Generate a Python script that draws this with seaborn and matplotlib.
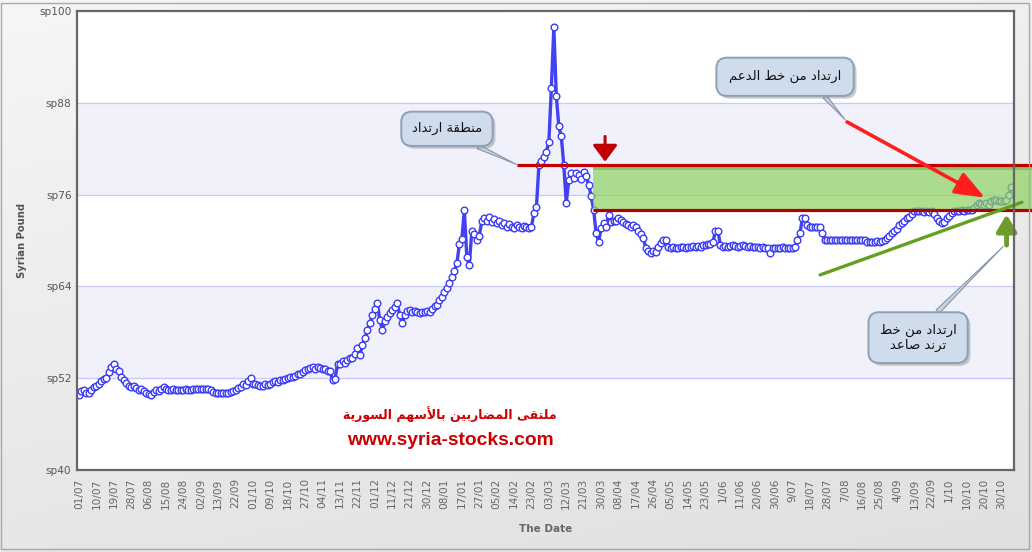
import numpy as np
import pandas as pd
import seaborn as sns
from matplotlib import pyplot as plt
from matplotlib import patheffects as pe
from matplotlib.colors import LinearSegmentedColormap
from matplotlib.patches import Rectangle

#############################################
# Data (one row = one x-label interval of 7 sessions)
#############################################
PRICES = [
    49.8, 50.3, 50.4, 50.1, 50.0, 50.4, 50.8,
    51.0, 51.3, 51.6, 51.9, 52.0, 52.8, 53.4,
    53.9, 53.2, 52.9, 52.2, 51.8, 51.4, 51.0,
    50.9, 51.0, 50.7, 50.5, 50.6, 50.3, 50.1,
    49.9, 49.8, 50.2, 50.4, 50.3, 50.6, 50.9,
    50.6, 50.4, 50.5, 50.6, 50.4, 50.5, 50.5,
    50.4, 50.6, 50.5, 50.5, 50.6, 50.6, 50.6,
    50.6, 50.6, 50.6, 50.6, 50.5, 50.2, 50.1,
    50.1, 50.0, 50.1, 50.1, 50.0, 50.2, 50.3,
    50.4, 50.7, 50.9, 51.2, 51.1, 51.6, 52.0,
    51.3, 51.2, 51.1, 51.0, 51.0, 51.2, 51.1,
    51.3, 51.5, 51.6, 51.5, 51.7, 51.8, 51.9,
    52.0, 52.1, 52.2, 52.3, 52.6, 52.5, 52.8,
    53.1, 53.2, 53.3, 53.4, 53.2, 53.5, 53.3,
    53.2, 53.2, 53.0, 52.9, 51.8, 51.9, 53.9,
    53.8, 54.2, 54.0, 54.4, 54.7, 54.6, 55.2,
    55.9, 55.0, 56.3, 57.2, 58.3, 59.2, 60.2,
    61.0, 61.8, 59.6, 58.3, 59.5, 60.0, 60.5,
    60.9, 61.3, 61.8, 60.2, 59.2, 60.3, 60.8,
    60.9, 60.7, 60.8, 60.6, 60.5, 60.7, 60.6,
    60.8, 60.6, 61.0, 61.5, 61.6, 62.2, 62.6,
    63.2, 63.8, 64.4, 65.2, 66.0, 67.0, 69.5,
    70.2, 74.0, 67.8, 66.8, 71.2, 70.8, 70.0,
    70.6, 72.5, 73.0, 72.6, 73.1, 72.4, 72.8,
    72.3, 72.6, 72.0, 72.3, 71.8, 72.2, 71.7,
    71.6, 72.0, 71.7, 71.6, 71.9, 71.7, 71.6,
    71.8, 73.6, 74.4, 79.9, 80.4, 80.9, 81.6,
    82.9, 89.9, 97.9, 88.9, 84.9, 83.6, 79.9,
    74.9, 77.9, 78.8, 78.2, 78.8, 78.5, 78.0,
    79.0, 78.4, 77.3, 75.8, 74.0, 71.0, 69.8,
    71.6, 72.3, 71.8, 73.3, 72.4, 72.5, 72.6,
    73.0, 72.7, 72.4, 72.2, 72.0, 71.8, 72.0,
    71.8, 71.3, 70.8, 70.3, 69.0, 68.6, 68.4,
    68.6, 68.5, 69.2, 69.7, 70.0, 70.0, 69.1,
    69.0, 69.1, 69.0, 69.0, 69.2, 69.1, 69.0,
    69.1, 69.2, 69.3, 69.2, 69.3, 69.2, 69.4,
    69.4, 69.5, 69.6, 69.8, 71.2, 71.2, 69.4,
    69.2, 69.3, 69.2, 69.3, 69.4, 69.3, 69.2,
    69.3, 69.4, 69.3, 69.2, 69.3, 69.1, 69.2,
    69.1, 69.0, 69.1, 69.0, 69.0, 68.4, 69.0,
    69.0, 69.0, 69.0, 69.1, 69.0, 69.0, 69.0,
    69.0, 69.2, 70.0, 71.0, 72.9, 72.9, 72.0,
    71.8, 71.8, 71.8, 71.8, 71.8, 71.0, 70.1,
    70.1, 70.0, 70.1, 70.0, 70.0, 70.1, 70.0,
    70.0, 70.0, 70.1, 70.0, 70.0, 70.0, 70.0,
    70.0, 70.0, 69.8, 69.8, 69.8, 69.8, 69.9,
    69.8, 69.9, 70.1, 70.3, 70.6, 71.0, 71.2,
    71.5, 72.0, 72.3, 72.6, 73.0, 73.1, 73.5,
    73.8, 73.8, 73.8, 73.8, 73.7, 73.8, 73.7,
    73.8, 73.4, 72.9, 72.6, 72.3, 72.4, 72.9,
    73.2, 73.6, 73.8, 73.8, 73.9, 74.0, 73.9,
    74.0, 74.0, 74.0, 74.3, 74.6, 74.9, 74.8,
    74.6, 74.9, 74.7, 75.2, 75.3, 75.3, 75.2,
    75.1, 75.2, 75.3, 75.9, 77.0,
]

DATE_LABELS = [
    "01/07", "10/07", "19/07", "28/07", "06/08", "15/08", "24/08", "02/09", "13/09",
    "22/09", "01/10", "09/10", "18/10", "27/10", "04/11", "13/11", "22/11", "01/12",
    "11/12", "21/12", "30/12", "08/01", "17/01", "27/01", "05/02", "14/02", "23/02",
    "03/03", "12/03", "21/03", "30/03", "08/04", "17/04", "26/04", "05/05", "14/05",
    "23/05", "1/06", "11/06", "20/06", "30/06", "9/07", "18/07", "28/07", "7/08",
    "16/08", "25/08", "4/09", "13/09", "22/09", "1/10", "10/10", "20/10", "30/10",
]
LABEL_STEP = 7
Y_TICKS = [40, 52, 64, 76, 88, 100]

# analysis levels
RESISTANCE = 79.9
SUPPORT = 74.0
ZONE_START = 176.2      # where the resistance line begins (session index)
BOX_START = 206.8
RIGHT_END = 383.3
TREND_START = (298.1, 65.5)
TREND_END = (379.3, 75.0)

TXT_ZONE = "منطقة ارتداد"
TXT_SUPPORT = "ارتداد من خط الدعم"
TXT_TREND = "ارتداد من خط\nترند صاعد"
TXT_FORUM = "ملتقى المضاربين بالأسهم السورية"
TXT_SITE = "www.syria-stocks.com"

#############################################
# Arabic shaping (matplotlib draws glyphs left to right, unjoined)
#############################################
AR_FORMS = {  # isolated, final, initial, medial
    'ا': (0xFE8D, 0xFE8E), 'أ': (0xFE83, 0xFE84), 'د': (0xFEA9, 0xFEAA),
    'ر': (0xFEAD, 0xFEAE), 'و': (0xFEED, 0xFEEE), 'ة': (0xFE93, 0xFE94),
    'ب': (0xFE8F, 0xFE90, 0xFE91, 0xFE92), 'ت': (0xFE95, 0xFE96, 0xFE97, 0xFE98),
    'خ': (0xFEA5, 0xFEA6, 0xFEA7, 0xFEA8), 'س': (0xFEB1, 0xFEB2, 0xFEB3, 0xFEB4),
    'ص': (0xFEB9, 0xFEBA, 0xFEBB, 0xFEBC), 'ض': (0xFEBD, 0xFEBE, 0xFEBF, 0xFEC0),
    'ط': (0xFEC1, 0xFEC2, 0xFEC3, 0xFEC4), 'ع': (0xFEC9, 0xFECA, 0xFECB, 0xFECC),
    'ق': (0xFED5, 0xFED6, 0xFED7, 0xFED8), 'ل': (0xFEDD, 0xFEDE, 0xFEDF, 0xFEE0),
    'م': (0xFEE1, 0xFEE2, 0xFEE3, 0xFEE4), 'ن': (0xFEE5, 0xFEE6, 0xFEE7, 0xFEE8),
    'ه': (0xFEE9, 0xFEEA, 0xFEEB, 0xFEEC), 'ي': (0xFEF1, 0xFEF2, 0xFEF3, 0xFEF4),
    'ى': (0xFEEF, 0xFEF0, 0xFBE8, 0xFBE9),
    'لا': (0xFEFB, 0xFEFC), 'لأ': (0xFEF7, 0xFEF8),
}


def shape_ar(text):
    lines = []
    for line in text.split('\n'):
        units, i = [], 0
        while i < len(line):
            if line[i:i + 2] in ('لا', 'لأ'):
                units.append(line[i:i + 2])
                i += 2
            else:
                units.append(line[i])
                i += 1
        out = []
        for k, u in enumerate(units):
            if u not in AR_FORMS:
                out.append(u)
                continue
            prev = units[k - 1] if k > 0 else ''
            nxt = units[k + 1] if k + 1 < len(units) else ''
            forms = AR_FORMS[u]
            p = len(AR_FORMS.get(prev, ())) == 4
            n = len(forms) == 4 and nxt in AR_FORMS
            code = forms[3] if p and n else forms[1] if p else forms[2] if n else forms[0]
            out.append(chr(code))
        lines.append(''.join(out)[::-1])
    return '\n'.join(lines)


#############################################
# Figure
#############################################
sns.set_style("white")
plt.rcParams['font.family'] = ['DejaVu Sans']

df = pd.DataFrame({"session": np.arange(len(PRICES)), "price": PRICES})

fig = plt.figure(figsize=(10.32, 5.52), dpi=100)

# grey gradient background
bg = fig.add_axes([0, 0, 1, 1], zorder=-10)
grad = np.add.outer(np.linspace(0, 1, 60), np.linspace(0, 0.4, 60))
bg.imshow(grad, aspect='auto', extent=(0, 1, 0, 1),
          cmap=LinearSegmentedColormap.from_list("bg", ["#f6f6f6", "#e0e0e0"]))
bg.axis('off')
fig.patches.append(Rectangle((0.001, 0.005), 0.996, 0.99, transform=fig.transFigure,
                             fill=False, ec='#a8a8a8', lw=1))

ax = fig.add_axes([0.0746, 0.1486, 0.9080, 0.8315])
ax.set_facecolor('white')
for lo, hi in [(52, 64), (76, 88)]:
    ax.axhspan(lo, hi, color='#f1f1fc', zorder=0)
for v in Y_TICKS[1:-1]:
    ax.axhline(v, color='#c9c9f2', lw=0.9, zorder=0.5)

sns.lineplot(data=df, x="session", y="price", ax=ax, color='#4242f2', lw=2.4,
             marker='o', markersize=4.8, markerfacecolor='white',
             markeredgecolor='#3b3bf5', markeredgewidth=1.0, zorder=2)

ax.set_xlim(-0.8, 376.1)
ax.set_ylim(40, 100)

# resistance / support zone
ax.add_patch(Rectangle((BOX_START, SUPPORT), RIGHT_END - BOX_START, RESISTANCE - SUPPORT,
                       fc='#8fd364', alpha=0.72, ec='none', zorder=3, clip_on=False))
ax.add_patch(Rectangle((BOX_START, RESISTANCE - 0.7), RIGHT_END - BOX_START, 0.7,
                       fc='#4f9a30', alpha=0.35, ec='none', zorder=3, clip_on=False))
ax.plot([ZONE_START, RIGHT_END], [RESISTANCE, RESISTANCE], color='#c00000', lw=2.3,
        zorder=4, clip_on=False, solid_capstyle='butt')
ax.plot([BOX_START, RIGHT_END], [SUPPORT, SUPPORT], color='#b00000', lw=2.3,
        zorder=4, clip_on=False, solid_capstyle='butt')

# rising trend line
ax.plot([TREND_START[0], TREND_END[0]], [TREND_START[1], TREND_END[1]],
        color='#62a020', lw=2.4, zorder=4, clip_on=False)

# arrows
ax.annotate('', xy=(211.6, 80.3), xytext=(211.6, 83.6), zorder=5,
            arrowprops=dict(arrowstyle='-|>,head_length=1.0,head_width=0.75',
                            color='#c00000', lw=2.2, mutation_scale=10,
                            shrinkA=0, shrinkB=0))
ax.annotate('', xy=(364.4, 75.6), xytext=(308.9, 85.5), zorder=5,
            arrowprops=dict(arrowstyle='-|>,head_length=1.8,head_width=0.7',
                            color='#ff1e1e', lw=2.6, mutation_scale=10,
                            shrinkA=0, shrinkB=0))
ax.annotate('', xy=(373.1, 73.4), xytext=(373.1, 69.4), zorder=5,
            arrowprops=dict(arrowstyle='-|>,head_length=1.0,head_width=0.6',
                            color='#6b9c2c', lw=3.5, mutation_scale=10,
                            shrinkA=0, shrinkB=0))

# callouts
shadow = [pe.withSimplePatchShadow(offset=(2, -2), shadow_rgbFace='#888888', alpha=0.45)]
callouts = [
    (TXT_ZONE, (148.0, 84.6), (176.2, 79.9), 0.8, (0.6, 0.0)),
    (TXT_SUPPORT, (284.0, 91.4), (308.1, 85.8), 0.95, (0.75, 0.0)),
    (TXT_TREND, (337.5, 57.3), (371.7, 69.2), 0.85, (0.6, 1.0)),
]
for txt, pos, tip, pad, rel in callouts:
    ann = ax.annotate(shape_ar(txt), xy=tip, xytext=pos, ha='center', va='center',
                      multialignment='center', fontsize=9.5, color='#111111',
                      family='DejaVu Sans', zorder=6, annotation_clip=False,
                      bbox=dict(boxstyle='round,pad=%.2f,rounding_size=0.8' % pad,
                                fc='#cfdcec', ec='#8da0b8', lw=1.4),
                      arrowprops=dict(arrowstyle='wedge,tail_width=0.35,shrink_factor=0.4',
                                      fc='#c8d3e0', ec='#8796aa', lw=0.8, relpos=rel,
                                      shrinkA=0, shrinkB=0))
    ann.get_bbox_patch().set_path_effects(shadow)

# watermark
ax.text(149.2, 47.3, shape_ar(TXT_FORUM), ha='center', va='center', fontsize=9.0,
        fontweight='bold', color='#cc0000', family='DejaVu Sans', zorder=6)
ax.text(149.6, 43.8, TXT_SITE, ha='center', va='center', fontsize=13.9,
        fontweight='bold', color='#cc0000', family='Liberation Sans', zorder=6)

# axes styling
ax.set_xticks(range(0, LABEL_STEP * len(DATE_LABELS), LABEL_STEP))
ax.set_xticklabels(DATE_LABELS, rotation=90, fontsize=7.6, color='#666666')
ax.set_yticks(Y_TICKS)
ax.set_yticklabels(['sp%d' % v for v in Y_TICKS], fontsize=7.6, color='#555555')
ax.tick_params(axis='x', length=0, pad=6)
ax.tick_params(axis='y', length=0, pad=4)
for s in ax.spines.values():
    s.set_color('#666666')
    s.set_linewidth(1.6)
    s.set_zorder(7)

ax.set_xlabel("The Date", fontsize=7.5, fontweight='bold', color='#666666')
ax.set_ylabel("Syrian Pound", fontsize=7.2, fontweight='bold', color='#555555')
ax.xaxis.set_label_coords(0.5, -0.118)
ax.yaxis.set_label_coords(-0.053, 0.5)

fig.savefig("out.png", dpi=100)
